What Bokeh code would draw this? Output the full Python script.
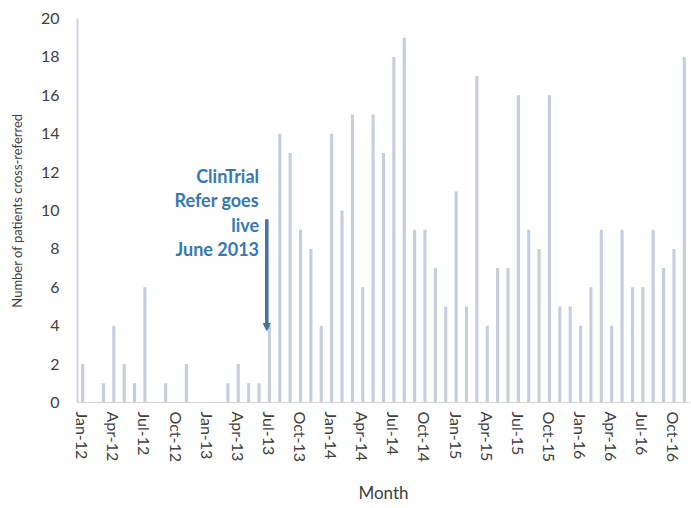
from bokeh.plotting import figure
from bokeh.models import Range1d, FixedTicker, Arrow, NormalHead
from bokeh.core.properties import value
from bokeh.embed import file_html
from bokeh.resources import INLINE

months = ["Jan-12","Feb-12","Mar-12","Apr-12","May-12","Jun-12","Jul-12","Aug-12","Sep-12","Oct-12","Nov-12","Dec-12",
          "Jan-13","Feb-13","Mar-13","Apr-13","May-13","Jun-13","Jul-13","Aug-13","Sep-13","Oct-13","Nov-13","Dec-13",
          "Jan-14","Feb-14","Mar-14","Apr-14","May-14","Jun-14","Jul-14","Aug-14","Sep-14","Oct-14","Nov-14","Dec-14",
          "Jan-15","Feb-15","Mar-15","Apr-15","May-15","Jun-15","Jul-15","Aug-15","Sep-15","Oct-15","Nov-15","Dec-15",
          "Jan-16","Feb-16","Mar-16","Apr-16","May-16","Jun-16","Jul-16","Aug-16","Sep-16","Oct-16","Nov-16"]
patients = [2,0,1,4,2,1,6,0,1,0,2,0,
            0,0,1,2,1,1,4,14,13,9,8,4,
            14,10,15,6,15,13,18,19,9,9,7,5,
            11,5,17,4,7,7,16,9,8,16,5,5,
            4,6,9,4,9,6,6,9,7,8,18]
y_ticks = [0,2,4,6,8,10,12,14,16,18,20]
annotation_lines = ["ClinTrial", "Refer goes", "live", "June 2013"]

idx = list(range(len(months)))
tick_idx = idx[::3]

p = figure(width=691, height=508, output_backend="svg", toolbar_location=None,
           x_range=Range1d(-0.5, len(months) - 0.5), y_range=Range1d(0, 20),
           min_border_left=77, min_border_right=2, min_border_top=18, min_border_bottom=106)
p.outline_line_color = None
p.xgrid.visible = False
p.ygrid.visible = False

p.vbar(x=idx, top=patients, width=0.3, fill_color="#c6cedd", line_color=None)

font = "Lato"
p.xaxis.ticker = FixedTicker(ticks=tick_idx)
p.xaxis.major_label_overrides = {i: months[i] for i in tick_idx}
p.xaxis.major_label_orientation = "vertical"
p.xaxis.major_label_text_font = font
p.xaxis.major_label_text_font_size = "16px"
p.xaxis.major_label_text_color = "#404040"
p.xaxis.major_label_standoff = 3
p.xaxis.axis_label = "Month"
p.xaxis.axis_label_text_font = font
p.xaxis.axis_label_text_font_size = "17px"
p.xaxis.axis_label_text_font_style = "normal"
p.xaxis.axis_label_text_color = "#404040"
p.xaxis.axis_label_standoff = 17
p.xaxis.axis_line_color = "#d4d4d4"
p.xaxis.major_tick_line_color = None
p.xaxis.minor_tick_line_color = None

p.yaxis.ticker = FixedTicker(ticks=y_ticks)
p.yaxis.major_label_text_font = font
p.yaxis.major_label_text_font_size = "16px"
p.yaxis.major_label_text_color = "#404040"
p.yaxis.major_label_standoff = 12
p.yaxis.axis_label = "Number of patients cross-referred"
p.yaxis.axis_label_text_font = font
p.yaxis.axis_label_text_font_size = "13px"
p.yaxis.axis_label_text_font_style = "normal"
p.yaxis.axis_label_text_color = "#404040"
p.yaxis.axis_label_standoff = 13
p.yaxis.axis_line_color = "#cdd3de"
p.yaxis.axis_line_width = 2
p.yaxis.major_tick_line_color = None
p.yaxis.minor_tick_line_color = None

p.text(x=[17.0]*4, y=[11.8, 10.55, 9.27, 8.02], text=annotation_lines,
       text_align="right", text_baseline="middle", text_font=value(font),
       text_font_size="18px", text_font_style="bold", text_color="#3578b8")

p.add_layout(Arrow(x_start=17.75, y_start=9.55, x_end=17.75, y_end=3.75,
                   line_color="#44729f", line_width=3.5,
                   end=NormalHead(size=7, fill_color="#44729f", line_color="#44729f")))

open("out.html", "w").write(file_html(p, INLINE))
